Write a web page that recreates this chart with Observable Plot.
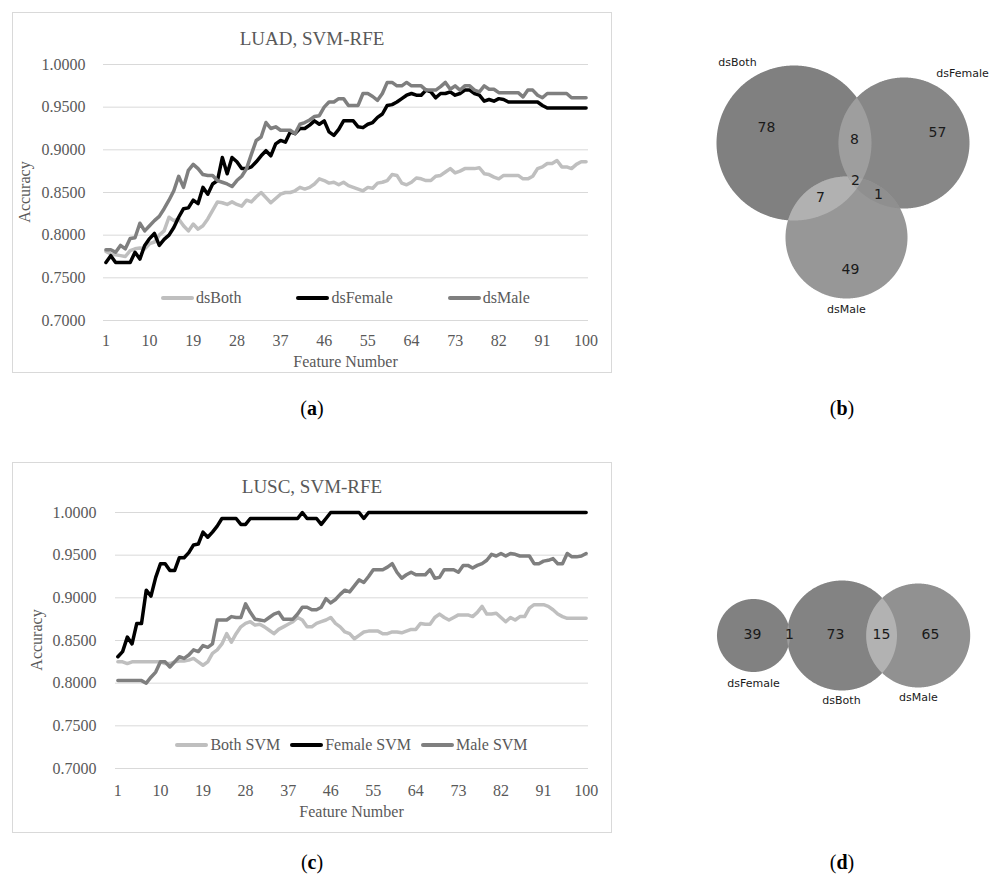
<!DOCTYPE html>
<html><head><meta charset="utf-8">
<script src="https://cdn.jsdelivr.net/npm/d3@7"></script>
<script src="https://cdn.jsdelivr.net/npm/@observablehq/plot@0.6"></script>
<style>
body{margin:0;background:#fff;}
#fig{position:relative;width:998px;height:886px;overflow:hidden;background:#fff;}
.abs{position:absolute;white-space:nowrap;}
.box{position:absolute;border:1px solid #d9d9d9;box-sizing:border-box;}
</style></head><body><div id="fig"></div>
<script>
// ---------------- data ----------------
const featureTicks = [1, 10, 19, 28, 37, 46, 55, 64, 73, 82, 91, 100];
const accuracyTicks = [0.70, 0.75, 0.80, 0.85, 0.90, 0.95, 1.00];

// (a) LUAD, SVM-RFE
const luadNames = ["dsBoth", "dsFemale", "dsMale"];
const luadBoth = [0.781,0.778,0.777,0.776,0.775,0.782,0.784,0.785,0.784,0.790,0.792,0.800,0.805,0.821,0.817,0.819,0.811,0.805,0.813,0.807,0.811,0.819,0.829,0.839,0.838,0.836,0.839,0.836,0.834,0.841,0.839,0.845,0.850,0.844,0.838,0.843,0.848,0.850,0.850,0.852,0.856,0.854,0.856,0.860,0.866,0.864,0.861,0.862,0.859,
0.862,0.858,0.856,0.854,0.852,0.856,0.855,0.861,0.862,0.864,0.871,0.870,0.861,0.859,0.862,0.867,0.866,0.864,0.864,0.869,0.870,0.874,0.878,0.873,0.875,0.878,0.878,0.878,0.879,0.872,0.871,0.868,0.866,0.870,0.870,0.870,0.870,0.866,0.866,0.869,0.878,0.880,0.884,0.884,0.8875,0.880,0.880,0.878,0.883,0.886,0.886];
const luadFemale = [0.768,0.776,0.768,0.768,0.768,0.768,0.780,0.772,0.788,0.796,0.802,0.788,0.795,0.800,0.809,0.821,0.831,0.832,0.841,0.837,0.856,0.848,0.860,0.864,0.891,0.872,0.891,0.886,0.878,0.878,0.880,0.886,0.893,0.899,0.893,0.907,0.911,0.909,0.921,0.919,0.925,0.925,0.929,0.934,0.930,0.934,0.921,0.917,0.924,
0.934,0.934,0.934,0.927,0.926,0.930,0.932,0.938,0.942,0.952,0.953,0.956,0.960,0.964,0.966,0.964,0.964,0.970,0.968,0.961,0.966,0.966,0.968,0.964,0.966,0.970,0.970,0.966,0.964,0.957,0.959,0.957,0.960,0.959,0.956,0.956,0.956,0.956,0.956,0.956,0.956,0.952,0.949,0.949,0.949,0.949,0.949,0.949,0.949,0.949,0.949];
const luadMale = [0.783,0.783,0.780,0.788,0.784,0.796,0.797,0.814,0.805,0.811,0.817,0.822,0.831,0.841,0.852,0.869,0.856,0.876,0.883,0.878,0.871,0.870,0.870,0.864,0.862,0.860,0.857,0.864,0.869,0.878,0.895,0.911,0.915,0.932,0.925,0.927,0.923,0.923,0.923,0.919,0.930,0.932,0.935,0.939,0.940,0.950,0.956,0.956,0.960,
0.960,0.952,0.952,0.952,0.966,0.966,0.9625,0.958,0.966,0.979,0.979,0.975,0.975,0.979,0.975,0.975,0.975,0.970,0.970,0.970,0.974,0.979,0.971,0.975,0.970,0.975,0.975,0.970,0.968,0.975,0.971,0.971,0.967,0.967,0.967,0.967,0.967,0.962,0.970,0.970,0.964,0.961,0.966,0.966,0.966,0.966,0.966,0.961,0.961,0.961,0.961];

// (c) LUSC, SVM-RFE
const luscNames = ["Both SVM", "Female SVM", "Male SVM"];
const luscBoth = [0.825,0.825,0.823,0.825,0.825,0.825,0.825,0.825,0.825,0.825,0.823,0.823,0.825,0.826,0.826,0.827,0.829,0.825,0.821,0.825,0.835,0.839,0.846,0.858,0.848,0.858,0.866,0.870,0.872,0.868,0.869,0.866,0.862,0.858,0.863,0.866,0.869,0.872,0.877,0.874,0.866,0.866,0.870,0.872,0.874,0.877,0.870,0.866,
0.860,0.858,0.852,0.856,0.860,0.861,0.861,0.861,0.858,0.858,0.860,0.860,0.859,0.861,0.863,0.863,0.870,0.869,0.869,0.877,0.881,0.877,0.874,0.877,0.880,0.880,0.880,0.878,0.883,0.890,0.881,0.881,0.882,0.877,0.872,0.877,0.874,0.878,0.878,0.888,0.892,0.892,0.892,0.890,0.886,0.881,0.878,0.876,0.876,0.876,0.876,0.876];
const luscFemale = [0.831,0.837,0.854,0.846,0.870,0.870,0.909,0.902,0.924,0.940,0.940,0.932,0.932,0.947,0.947,0.953,0.962,0.963,0.977,0.971,0.977,0.984,0.993,0.993,0.993,0.993,0.986,0.986,0.993,0.993,0.993,0.993,0.993,0.993,0.993,0.993,0.993,0.993,0.993,1.000,0.993,0.993,0.993,0.986,0.993,1.000,1.000,1.000,
1.000,1.000,1.000,1.000,0.993,1.000,1.000,1.000,1.000,1.000,1.000,1.000,1.000,1.000,1.000,1.000,1.000,1.000,1.000,1.000,1.000,1.000,1.000,1.000,1.000,1.000,1.000,1.000,1.000,1.000,1.000,1.000,1.000,1.000,1.000,1.000,1.000,1.000,1.000,1.000,1.000,1.000,1.000,1.000,1.000,1.000,1.000,1.000,1.000,1.000,1.000,1.000];
const luscMale = [0.803,0.803,0.803,0.803,0.803,0.803,0.800,0.807,0.813,0.825,0.825,0.819,0.825,0.831,0.829,0.833,0.839,0.837,0.844,0.842,0.846,0.874,0.874,0.874,0.878,0.877,0.877,0.893,0.883,0.875,0.874,0.873,0.877,0.881,0.883,0.875,0.875,0.875,0.881,0.889,0.889,0.886,0.886,0.889,0.899,0.894,0.898,0.904,
0.909,0.907,0.914,0.921,0.918,0.925,0.933,0.933,0.933,0.936,0.940,0.930,0.923,0.927,0.930,0.927,0.927,0.927,0.933,0.923,0.924,0.933,0.933,0.933,0.930,0.938,0.938,0.935,0.938,0.940,0.944,0.951,0.949,0.952,0.949,0.952,0.951,0.949,0.949,0.949,0.940,0.940,0.943,0.944,0.946,0.940,0.940,0.952,0.948,0.948,0.949,0.952];

// (b) Venn counts  (regions: only-set / pair overlaps / triple)
const vennBSets = ["dsBoth", "dsFemale", "dsMale"];
const vennBRegions = ["Both", "Female", "Male", "Both&Female", "Both&Male", "Female&Male", "Both&Female&Male"];
const vennBCounts = [78, 57, 49, 8, 7, 1, 2];
// (d) Venn counts
const vennDSets = ["dsFemale", "dsBoth", "dsMale"];
const vennDRegions = ["Female", "Female&Both", "Both", "Both&Male", "Male"];
const vennDCounts = [39, 1, 73, 15, 65];

// ---------------- layout / style ----------------
const SERIF = '"Liberation Serif","Times New Roman",serif';
const SANS = '"DejaVu Sans",sans-serif';
const seriesColors = ["#bfbfbf", "#000000", "#7f7f7f"];
const fig = document.getElementById("fig");

function addDiv(html, css) {
  const d = document.createElement("div");
  d.className = "abs";
  d.innerHTML = html;
  Object.assign(d.style, css);
  fig.appendChild(d);
  return d;
}
function centered(html, x, y, css) {
  return addDiv(html, Object.assign({left: x + "px", top: y + "px", transform: "translate(-50%,-50%)"}, css));
}

function lineChart(cfg) {
  const {box, plot, values, names, title} = cfg;
  const bx = document.createElement("div");
  bx.className = "box";
  Object.assign(bx.style, {left: box.x + "px", top: box.y + "px", width: box.w + "px", height: box.h + "px"});
  fig.appendChild(bx);
  const chart = Plot.plot({
    width: box.w, height: box.h,
    marginLeft: plot.left - box.x, marginRight: box.x + box.w - plot.right,
    marginTop: plot.top - box.y, marginBottom: box.y + box.h - plot.bottom,
    x: {domain: [0.5, 100.5]},
    y: {domain: [0.7, 1.0]},
    style: {fontFamily: SERIF, fontSize: "16px", color: "#595959", background: "transparent", overflow: "visible"},
    marks: [
      Plot.gridY(accuracyTicks, {stroke: "#d9d9d9", strokeOpacity: 1, strokeWidth: 1}),
      ...values.map((v, k) => Plot.line(v, {x: (d, i) => i + 1, y: d => d, stroke: seriesColors[k], strokeWidth: 3.5, strokeLinejoin: "round", strokeLinecap: "round"})),
      Plot.axisY(accuracyTicks, {tickSize: 0, tickPadding: cfg.yPad, tickFormat: d3.format(".4f"), label: null}),
      Plot.axisX(featureTicks, {tickSize: 0, tickPadding: cfg.xPad, label: null})
    ]
  });
  const holder = addDiv("", {left: box.x + "px", top: box.y + "px"});
  holder.appendChild(chart);
  const tc = "#595959";
  centered(title, box.x + box.w / 2, cfg.titleY, {fontFamily: SERIF, fontSize: "19px", color: tc});
  centered("Feature Number", (plot.left + plot.right) / 2, cfg.featY, {fontFamily: SERIF, fontSize: "16px", color: tc});
  centered("Accuracy", cfg.accX, (plot.top + plot.bottom) / 2, {fontFamily: SERIF, fontSize: "16px", color: tc, transform: "translate(-50%,-50%) rotate(-90deg)"});
  // legend
  const lg = addDiv("", {left: plot.left + "px", width: (plot.right - plot.left) + "px", top: (cfg.legendY - 11) + "px", height: "22px",
    display: "flex", justifyContent: "center", alignItems: "center", gap: cfg.legendGap + "px",
    fontFamily: SERIF, fontSize: "16px", color: tc});
  names.forEach((n, k) => {
    const it = document.createElement("span");
    it.style.display = "flex"; it.style.alignItems = "center";
    it.innerHTML = `<span style="display:inline-block;width:33px;height:4px;border-radius:2px;background:${seriesColors[k]};margin-right:2px"></span><span>${n}</span>`;
    lg.appendChild(it);
  });
}

lineChart({box: {x: 12, y: 12, w: 600, h: 361}, plot: {left: 103, right: 588, top: 64, bottom: 320},
  values: [luadBoth, luadFemale, luadMale], names: luadNames, title: "LUAD, SVM-RFE",
  titleY: 39, featY: 362, accX: 25, legendY: 298, legendGap: 55, xPad: 14, yPad: 18});
lineChart({box: {x: 12, y: 462, w: 600, h: 371}, plot: {left: 115, right: 588, top: 512, bottom: 768},
  values: [luscBoth, luscFemale, luscMale], names: luscNames, title: "LUSC, SVM-RFE",
  titleY: 487, featY: 812, accX: 37, legendY: 745, legendGap: 10, xPad: 16, yPad: 19});

// ---------------- Venn diagrams ----------------
function regionPoly(cs, N = 720) {
  const pts = [];
  for (const c of cs) for (let k = 0; k < N; k++) {
    const a = 2 * Math.PI * k / N;
    const x = c.cx + c.r * Math.cos(a), y = c.cy + c.r * Math.sin(a);
    if (cs.every(o => o === c || Math.hypot(x - o.cx, y - o.cy) <= o.r)) pts.push({x, y});
  }
  const mx = d3.mean(pts, p => p.x), my = d3.mean(pts, p => p.y);
  pts.sort((p, q) => Math.atan2(p.y - my, p.x - mx) - Math.atan2(q.y - my, q.x - mx));
  return pts;
}
function venn(cfg) {
  const {area, circles, shapes, numbers, setLabels} = cfg;
  const chart = Plot.plot({
    width: area.w, height: area.h, margin: 0,
    x: {domain: [area.x, area.x + area.w], range: [0, area.w], axis: null},
    y: {domain: [area.y, area.y + area.h], range: [0, area.h], axis: null},
    style: {fontFamily: SANS, background: "transparent", overflow: "visible"},
    marks: [
      ...shapes.map(s => Plot.line(regionPoly(s.of.map(i => circles[i])), {x: "x", y: "y", fill: s.color, stroke: "none", curve: "linear-closed"})),
      Plot.text(numbers, {x: "x", y: "y", text: "t", fontSize: 14, fill: "#1a1a1a"}),
      Plot.text(setLabels, {x: "x", y: "y", text: "t", fontSize: 11, fill: "#1a1a1a"})
    ]
  });
  const holder = addDiv("", {left: area.x + "px", top: area.y + "px"});
  holder.appendChild(chart);
}

// (b) layout
venn({
  area: {x: 700, y: 40, w: 298, h: 290},
  circles: [{cx: 793.5, cy: 142.5, r: 77.5}, {cx: 903.5, cy: 142.5, r: 65.5}, {cx: 846, cy: 237, r: 61}],
  shapes: [
    {of: [0], color: "#808080"}, {of: [1], color: "#878787"}, {of: [2], color: "#979797"},
    {of: [0, 1], color: "#9e9e9e"}, {of: [0, 2], color: "#b1b1b1"}, {of: [1, 2], color: "#8f8f8f"},
    {of: [0, 1, 2], color: "#a6a6a6"}
  ],
  numbers: [
    {x: 766, y: 127}, {x: 937, y: 132}, {x: 850, y: 269}, {x: 854, y: 139}, {x: 820, y: 197}, {x: 878, y: 194}, {x: 855, y: 180}
  ].map((p, k) => ({...p, t: String(vennBCounts[k])})),
  setLabels: [{x: 737, y: 62}, {x: 962, y: 73}, {x: 846, y: 309}].map((p, k) => ({...p, t: vennBSets[k]}))
});

// (d) layout
venn({
  area: {x: 700, y: 565, w: 298, h: 150},
  circles: [{cx: 753, cy: 635, r: 36.5}, {cx: 841.5, cy: 635, r: 55}, {cx: 917.7, cy: 635, r: 52}],
  shapes: [
    {of: [0], color: "#818181"}, {of: [1], color: "#838383"}, {of: [2], color: "#919191"},
    {of: [0, 1], color: "#9c9c9c"}, {of: [1, 2], color: "#b2b2b2"}
  ],
  numbers: [{x: 752, y: 634}, {x: 789, y: 634}, {x: 835, y: 634}, {x: 881, y: 634}, {x: 930, y: 634}]
    .map((p, k) => ({...p, t: String(vennDCounts[k])})),
  setLabels: [{x: 753, y: 683}, {x: 841, y: 700}, {x: 918, y: 697}].map((p, k) => ({...p, t: vennDSets[k]}))
});

// panel labels
[["a", 312, 408], ["b", 842, 408], ["c", 312, 862], ["d", 842, 862]].forEach(([l, x, y]) =>
  centered(`(<b>${l}</b>)`, x, y, {fontFamily: SERIF, fontSize: "20px", color: "#000"}));
</script></body></html>
